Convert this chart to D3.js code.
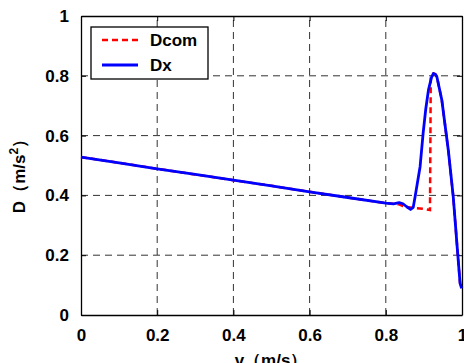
<!DOCTYPE html>
<html>
<head>
<meta charset="utf-8">
<script src="https://d3js.org/d3.v7.min.js"></script>
<style>
  body { margin: 0; background: #fff; }
  svg text { font-family: "Liberation Sans", Arial, sans-serif; font-weight: bold; }
</style>
</head>
<body>
<svg width="464" height="363" id="chart"></svg>
<script>
// Dx curve
const dxV = [0, 0.1, 0.2, 0.3, 0.4, 0.5, 0.6, 0.7, 0.8, 0.82, 0.835, 0.845, 0.855, 0.865, 0.872, 0.877,
  0.89, 0.898, 0.905, 0.912, 0.92, 0.925, 0.93, 0.934, 0.947, 0.964, 0.977, 0.988, 0.995, 0.999];
const dxVals = [0.528, 0.509, 0.489, 0.470, 0.451, 0.432, 0.412, 0.393, 0.374, 0.372, 0.376, 0.372, 0.362,
  0.353, 0.36, 0.396, 0.496, 0.608, 0.69, 0.753, 0.795, 0.808, 0.805, 0.797, 0.719, 0.552, 0.396, 0.217, 0.106, 0.089];
// Dcom curve
const dcomV = [0, 0.1, 0.2, 0.3, 0.4, 0.5, 0.6, 0.7, 0.8, 0.82, 0.835, 0.845, 0.86, 0.88, 0.9, 0.916, 0.918,
  0.925, 0.93, 0.934, 0.947, 0.964, 0.977, 0.988, 0.995, 0.999];
const dcomVals = [0.528, 0.509, 0.489, 0.470, 0.451, 0.432, 0.412, 0.393, 0.374, 0.372, 0.37, 0.364, 0.36,
  0.357, 0.355, 0.351, 0.80, 0.808, 0.805, 0.797, 0.719, 0.552, 0.396, 0.217, 0.106, 0.089];
const xTicks = [0, 0.2, 0.4, 0.6, 0.8, 1];
const yTicks = [0, 0.2, 0.4, 0.6, 0.8, 1];

const svg = d3.select('#chart');
const margin = { left: 81, top: 16, right: 2, bottom: 48 };
const W = 464, H = 363;
const x = d3.scaleLinear().domain([0, 1]).range([margin.left, W - margin.right]);
const y = d3.scaleLinear().domain([0, 1]).range([H - margin.bottom, margin.top]);

// grid
svg.append('g').selectAll('line').data(xTicks.slice(1, -1)).join('line')
  .attr('x1', d => x(d)).attr('x2', d => x(d)).attr('y1', y(0)).attr('y2', y(1))
  .attr('stroke', '#333').attr('stroke-dasharray', '7,5');
svg.append('g').selectAll('line').data(yTicks.slice(1, -1)).join('line')
  .attr('y1', d => y(d)).attr('y2', d => y(d)).attr('x1', x(0)).attr('x2', x(1))
  .attr('stroke', '#333').attr('stroke-dasharray', '7,5');

// axes
svg.append('g').attr('transform', `translate(0,${y(0)})`)
  .call(d3.axisBottom(x).tickValues(xTicks).tickFormat(d3.format('')).tickSizeInner(-5).tickSizeOuter(0).tickPadding(14));
svg.append('g').attr('transform', `translate(${x(0)},0)`)
  .call(d3.axisLeft(y).tickValues(yTicks).tickFormat(d3.format('')).tickSizeInner(-5).tickSizeOuter(0).tickPadding(12));
svg.append('g').attr('transform', `translate(0,${y(1)})`)
  .call(d3.axisTop(x).tickValues(xTicks).tickFormat('').tickSizeInner(-5).tickSizeOuter(0));
svg.append('g').attr('transform', `translate(${x(1)},0)`)
  .call(d3.axisRight(y).tickValues(yTicks).tickFormat('').tickSizeInner(-5).tickSizeOuter(0));
svg.selectAll('.domain').attr('stroke', '#000').attr('stroke-width', 1.3);
svg.selectAll('.tick line').attr('stroke', '#000');
svg.selectAll('.tick text').attr('font-size', 17).attr('fill', '#000');

// lines
const line = d3.line().x(d => x(d[0])).y(d => y(d[1]));
svg.append('path').datum(dcomV.map((v, i) => [v, dcomVals[i]]))
  .attr('d', line).attr('fill', 'none').attr('stroke', '#ff0000')
  .attr('stroke-width', 2.5).attr('stroke-dasharray', '6,4');
svg.append('path').datum(dxV.map((v, i) => [v, dxVals[i]]))
  .attr('d', line).attr('fill', 'none').attr('stroke', '#0000ff')
  .attr('stroke-width', 2.8).attr('stroke-linejoin', 'round');

// legend
const lg = svg.append('g');
lg.append('rect').attr('x', 91).attr('y', 27).attr('width', 117).attr('height', 52)
  .attr('fill', '#fff').attr('stroke', '#000').attr('stroke-width', 1.3);
lg.append('line').attr('x1', 102).attr('x2', 138).attr('y1', 40).attr('y2', 40)
  .attr('stroke', '#ff0000').attr('stroke-width', 2.5).attr('stroke-dasharray', '6,4');
lg.append('line').attr('x1', 102).attr('x2', 138).attr('y1', 65).attr('y2', 65)
  .attr('stroke', '#0000ff').attr('stroke-width', 2.8);
lg.append('text').attr('x', 150).attr('y', 46).attr('font-size', 17).text('Dcom');
lg.append('text').attr('x', 150).attr('y', 71).attr('font-size', 17).text('Dx');

// axis labels
svg.append('text').attr('x', 271).attr('y', 366).attr('text-anchor', 'middle')
  .attr('font-size', 17).text('v（m/s）');
const yl = svg.append('text').attr('transform', 'translate(25,172) rotate(-90)')
  .attr('text-anchor', 'middle').attr('font-size', 17);
yl.append('tspan').text('D（m/s');
yl.append('tspan').attr('font-size', 12).attr('dy', -7).text('2');
yl.append('tspan').attr('dy', 7).text('）');
</script>
</body>
</html>
